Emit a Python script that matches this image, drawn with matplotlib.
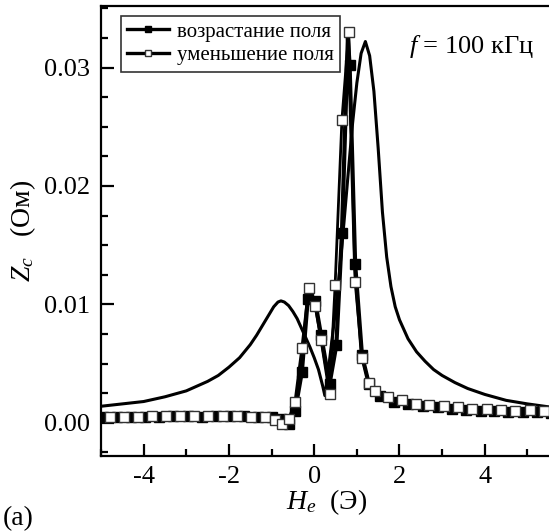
import matplotlib
matplotlib.use('Agg')
import matplotlib.pyplot as plt
from matplotlib.ticker import MultipleLocator, FormatStrFormatter

plt.rcParams['font.family'] = ['Liberation Serif', 'DejaVu Serif']
plt.rcParams['mathtext.fontset'] = 'custom'
plt.rcParams['mathtext.rm'] = 'Liberation Serif'
plt.rcParams['mathtext.it'] = 'Liberation Serif:italic'

# расчётная кривая Z_c(H_e)
H_calc = [-5.0, -4.5, -4.0, -3.5, -3.0, -2.5, -2.25, -2.0, -1.75, -1.5, -1.35,
          -1.2, -1.05, -0.95, -0.85, -0.78, -0.7, -0.6, -0.5, -0.4, -0.3, -0.2,
          -0.1, 0.0, 0.1, 0.2, 0.25, 0.3, 0.4, 0.5, 0.6, 0.7, 0.8, 0.9, 1.0, 1.1,
          1.2, 1.3, 1.4, 1.5, 1.6, 1.7, 1.8, 1.9, 2.0, 2.2, 2.4, 2.6, 2.8, 3.0,
          3.3, 3.6, 4.0, 4.5, 5.0, 5.6]
Z_calc = [0.0014, 0.0016, 0.0018, 0.0022, 0.0027, 0.0035, 0.0040, 0.0047, 0.0055,
          0.0066, 0.0074, 0.0083, 0.0092, 0.0098, 0.0102, 0.0103, 0.0102, 0.0099,
          0.0094, 0.0088, 0.0080, 0.0072, 0.0064, 0.0055, 0.0045, 0.0031, 0.0023,
          0.0035, 0.0065, 0.0095, 0.0130, 0.0170, 0.0212, 0.0253, 0.0287, 0.0312,
          0.0322, 0.0310, 0.0280, 0.0232, 0.0178, 0.0140, 0.0115, 0.0098, 0.0087,
          0.0071, 0.0060, 0.0052, 0.0045, 0.0040, 0.0034, 0.0029, 0.0024, 0.0019,
          0.0016, 0.0013]

# возрастание поля
H_up = [-4.95, -4.62, -4.29, -3.96, -3.63, -3.30, -2.97, -2.64, -2.31, -1.98, -1.65,
        -1.32, -0.99, -0.79, -0.60, -0.45, -0.29, -0.15, 0.02, 0.16, 0.36, 0.52,
        0.65, 0.79, 0.83, 0.96, 1.12, 1.28, 1.55, 1.88, 2.20, 2.55, 2.90, 3.22,
        3.55, 3.90, 4.22, 4.55, 4.90, 5.22, 5.55]
Z_up = [0.0005, 0.0005, 0.0005, 0.0005, 0.0005, 0.0006, 0.0006, 0.0005, 0.0006,
        0.0006, 0.0006, 0.0005, 0.0005, 0.0003, -0.0001, 0.0010, 0.0043, 0.0105,
        0.0103, 0.0074, 0.0033, 0.0066, 0.0160, 0.0325, 0.0302, 0.0134, 0.0057,
        0.0033, 0.0023, 0.0018, 0.0016, 0.0014, 0.0013, 0.0012, 0.0011, 0.0010,
        0.0010, 0.0009, 0.0009, 0.0009, 0.0008]
up_marked = [i for i in range(len(H_up)) if i != 23]

# уменьшение поля
H_down = [-4.79, -4.46, -4.13, -3.80, -3.47, -3.14, -2.81, -2.48, -2.15, -1.82,
          -1.49, -1.16, -0.92, -0.75, -0.60, -0.45, -0.29, -0.13, 0.02, 0.16, 0.36,
          0.49, 0.65, 0.81, 0.96, 1.12, 1.28, 1.42, 1.73, 2.05, 2.38, 2.70, 3.05,
          3.38, 3.70, 4.05, 4.38, 4.70, 5.05, 5.38]
Z_down = [0.0005, 0.0005, 0.0005, 0.0006, 0.0006, 0.0006, 0.0006, 0.0006, 0.0006,
          0.0006, 0.0005, 0.0005, 0.0002, -0.0001, 0.0003, 0.0018, 0.0063, 0.0114,
          0.0099, 0.0070, 0.0024, 0.0116, 0.0256, 0.0330, 0.0119, 0.0055, 0.0034,
          0.0027, 0.0022, 0.0019, 0.0016, 0.0015, 0.0014, 0.0013, 0.0012, 0.0012,
          0.0011, 0.0010, 0.0011, 0.0010]

fig = plt.figure(figsize=(5.49, 5.32), dpi=100)
# правая граница осей уходит за край рисунка
ax = fig.add_axes([101 / 549, 76 / 532, 452 / 549, 450 / 532])

ax.plot(H_calc, Z_calc, '-', color='black', lw=2.2, zorder=2)
ax.plot(H_up, Z_up, '-', color='black', lw=3.0, marker='s', ms=6.5,
        mfc='black', mec='black', markevery=up_marked, zorder=3,
        label='возрастание поля')
ax.plot(H_down, Z_down, '-', color='black', lw=2.0, marker='s', ms=6.5,
        mfc='white', mec='#333333', mew=1.0, zorder=4,
        label='уменьшение поля')

ax.set_xlim(-5, 5.6)
ax.set_ylim(-0.0028, 0.0352)
ax.xaxis.set_major_locator(MultipleLocator(2))
ax.xaxis.set_minor_locator(MultipleLocator(1))
ax.yaxis.set_major_locator(MultipleLocator(0.01))
ax.yaxis.set_minor_locator(MultipleLocator(0.0025))
ax.yaxis.set_major_formatter(FormatStrFormatter('%.2f'))
ax.xaxis.set_major_formatter(FormatStrFormatter('%d'))
ax.tick_params(which='both', direction='in', top=False, right=False,
               labelsize=19, width=1.6)
ax.tick_params(which='major', length=9)
ax.tick_params(which='minor', length=5)
ax.tick_params(axis='x', pad=7)
ax.tick_params(axis='y', pad=8)
for s in ax.spines.values():
    s.set_linewidth(1.6)
ax.spines['right'].set_visible(False)

ax.set_xlabel(r'$H_e$  (Э)', fontsize=20, labelpad=0)
ax.set_ylabel(r'$Z_c$   (Ом)', fontsize=20, labelpad=4)

leg = ax.legend(loc='upper left', bbox_to_anchor=(0.044, 0.978), fontsize=15,
                frameon=True, fancybox=False, handlelength=2.0,
                handletextpad=0.4, borderpad=0.3, labelspacing=0.2,
                borderaxespad=0.0)
leg.get_frame().set_edgecolor('black')
leg.get_frame().set_linewidth(1.2)
for h in leg.legend_handles:
    h.set_markersize(5)
    h.set_linewidth(2.4)

ax.text(0.682, 0.895, r'$f$ = 100 кГц', transform=ax.transAxes, fontsize=19,
        va='baseline')
fig.text(0.005, 0.012, '(a)', fontsize=20)

fig.savefig('out.png', dpi=100)
